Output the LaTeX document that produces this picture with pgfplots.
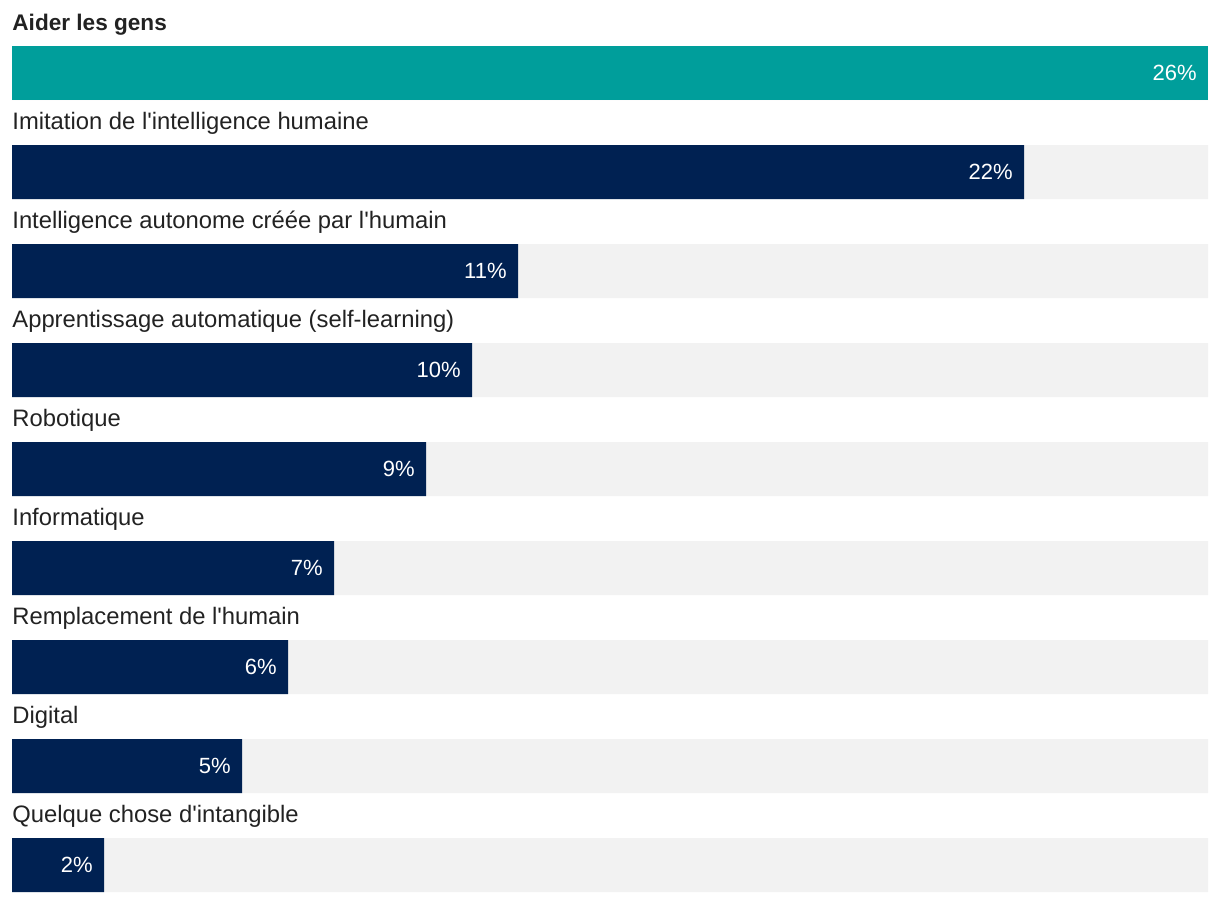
\documentclass[border=0pt]{standalone}
\usepackage{fontspec}
\newfontfamily\rob{Liberation Sans}
\usepackage{pgfplots}
\pgfplotsset{compat=1.18}
\definecolor{teal1}{HTML}{009E9B}
\definecolor{navy1}{HTML}{002152}
\definecolor{bg1}{HTML}{F2F2F2}
\definecolor{txt}{HTML}{222222}
\begin{document}%
\rob\fontsize{11}{13}\selectfont%
\begin{tikzpicture}
\path[use as bounding box] (0,0) rectangle (610pt,-451pt);
\begin{axis}[
  at={(6pt,-23pt)}, anchor=north west,
  width=598pt, height=423pt, scale only axis,
  xmin=0, xmax=26, ymin=-0.2727, ymax=8.2727,
  y dir=reverse, hide axis, clip=false,
  xbar, bar width=27pt, bar shift=0pt,
  /pgf/number format/assume math mode=true,
]
\addplot[fill=bg1, draw=none] coordinates {(26,0) (26,1) (26,2) (26,3) (26,4) (26,5) (26,6) (26,7) (26,8)};
\addplot[fill=teal1, draw=none,
  nodes near coords={\pgfmathprintnumber{\pgfplotspointmeta}\%},
  every node near coord/.append style={anchor=east, xshift=-5.5pt, inner sep=0pt, text=white, font=\rob\fontsize{11}{13}\selectfont}]
  coordinates {(26,0)};
\addplot[fill=navy1, draw=none,
  nodes near coords={\pgfmathprintnumber{\pgfplotspointmeta}\%},
  every node near coord/.append style={anchor=east, xshift=-5.5pt, inner sep=0pt, text=white, font=\rob\fontsize{11}{13}\selectfont}]
  coordinates {(22,1) (11,2) (10,3) (9,4) (7,5) (6,6) (5,7) (2,8)};
\begin{scope}[every node/.style={anchor=base west, inner sep=0pt, text=txt, font=\rob\fontsize{11.9}{14}\selectfont}]
\node[font=\rob\bfseries\fontsize{11.3}{13}\selectfont] at (axis cs:0,-0.43) {Aider les gens};
\node at (axis cs:0,0.57) {Imitation de l'intelligence humaine};
\node at (axis cs:0,1.57) {Intelligence autonome créée par l'humain};
\node at (axis cs:0,2.57) {Apprentissage automatique (self-learning)};
\node at (axis cs:0,3.57) {Robotique};
\node at (axis cs:0,4.57) {Informatique};
\node at (axis cs:0,5.57) {Remplacement de l'humain};
\node at (axis cs:0,6.57) {Digital};
\node at (axis cs:0,7.57) {Quelque chose d'intangible};
\end{scope}
\end{axis}
\end{tikzpicture}%
\end{document}
